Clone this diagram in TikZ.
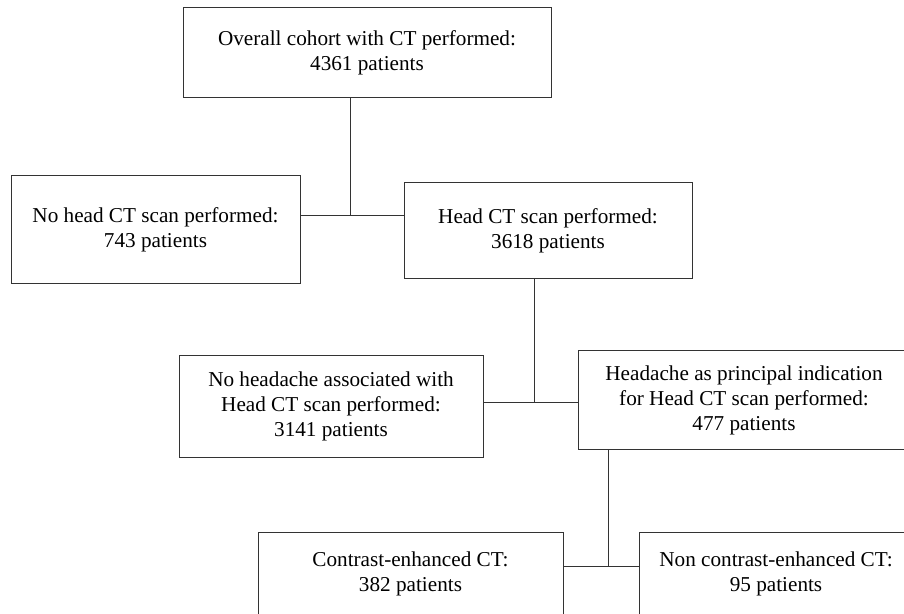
\documentclass[tikz,border=0pt]{standalone}
\usepackage{fontspec}
\setmainfont{Liberation Serif}
\usepackage{tikz}
\usetikzlibrary{positioning}
\tikzset{
    box/.style = {rectangle, draw=black!80, line width=0.5pt, align=center, inner sep=0pt, font=\fontsize{10.6}{12.5}\selectfont},
    link/.style = {draw=black!80, line width=0.5pt},
}

\begin{document}
\begin{tikzpicture}[x=0.5pt,y=-0.5pt]
\useasboundingbox (0,0) rectangle (904,614);
%
\node[box, minimum width=184pt, minimum height=45pt] at (367,53) (cohort) {Overall cohort with CT performed:\\4361 patients};
\node[box, minimum width=144.5pt, minimum height=54pt] at (155.5,230) (nohead) {No head CT scan performed:\\743 patients};
\node[box, minimum width=144pt, minimum height=48pt] at (548,231) (head) {Head CT scan performed:\\3618 patients};
\node[box, minimum width=152pt, minimum height=50.5pt] at (331,406.5) (noache) {No headache associated with\\Head CT scan performed:\\3141 patients};
\node[box, minimum width=166pt, minimum height=49pt] at (744,400) (ache) {Headache as principal indication\\for Head CT scan performed:\\477 patients};
\node[box, minimum width=152.5pt, minimum height=42pt] at (410.5,574) (contrast) {Contrast-enhanced CT:\\382 patients};
\node[box, minimum width=137pt, minimum height=42pt] at (776,574) (noncontrast) {Non contrast-enhanced CT:\\95 patients};
%
\coordinate (j1) at (350,216);
\coordinate (j2) at (534,402);
\coordinate (j3) at (608,566);
%
\draw[link] (j1 |- cohort.south) -- (j1);
\draw[link] (nohead.east |- j1) -- (head.west |- j1);
\draw[link] (j2 |- head.south) -- (j2);
\draw[link] (noache.east |- j2) -- (ache.west |- j2);
\draw[link] (j3 |- ache.south) -- (j3);
\draw[link] (contrast.east |- j3) -- (noncontrast.west |- j3);
\end{tikzpicture}
\end{document}
